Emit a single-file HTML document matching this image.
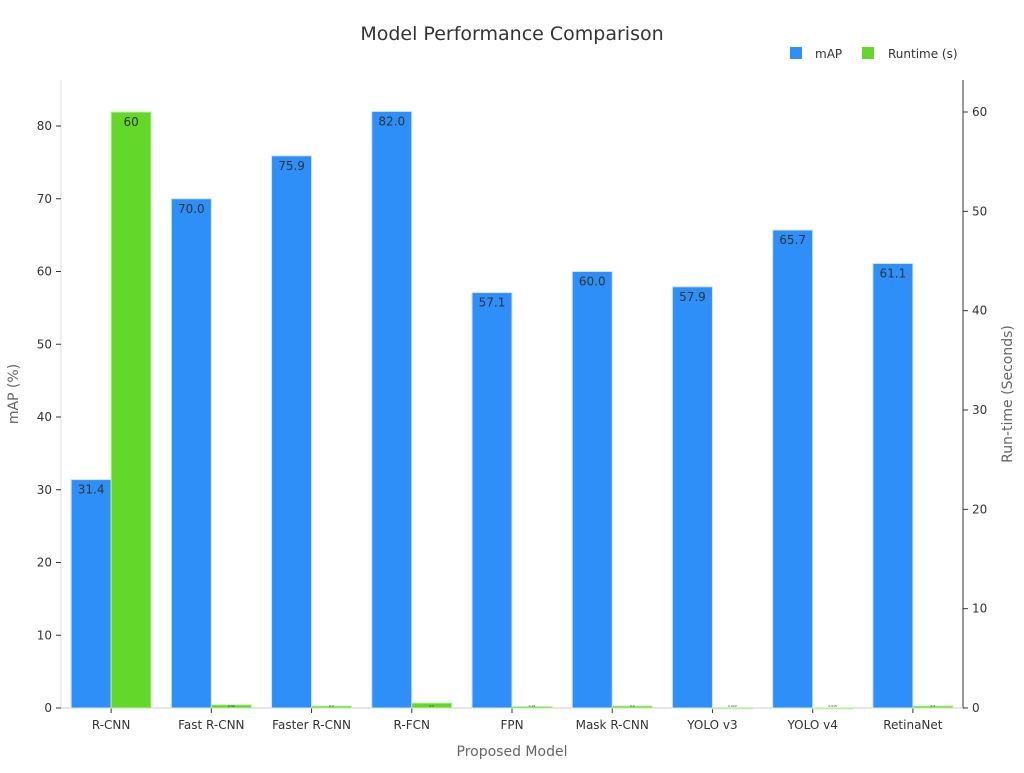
<!DOCTYPE html>
<html><head><meta charset="utf-8"><style>
body{margin:0;background:#fff;font-family:"Liberation Sans","DejaVu Sans",sans-serif}
</style></head><body>
<svg id="chart" width="1024" height="768" xmlns="http://www.w3.org/2000/svg" font-family="DejaVu Sans, Liberation Sans, sans-serif">
<text x="512" y="40" text-anchor="middle" font-size="19" fill="#333">Model Performance Comparison</text>
<g>
<rect x="790" y="47" width="12" height="12" fill="#2e8ff8"/>
<text x="815" y="58" font-size="12" fill="#333">mAP</text>
<rect x="862" y="47" width="12" height="12" fill="#64d82a"/>
<text x="888" y="58" font-size="12" fill="#333">Runtime (s)</text>
</g>
<g id="axes"></g>
<g id="bars"></g>
<text x="512" y="756" text-anchor="middle" font-size="14" fill="#666">Proposed Model</text>
<text transform="translate(18,394) rotate(-90)" text-anchor="middle" font-size="14" fill="#666">mAP (%)</text>
<text transform="translate(1012,394) rotate(-90)" text-anchor="middle" font-size="14" fill="#666">Run-time (Seconds)</text>
</svg>
<script>
const categories=["R-CNN","Fast R-CNN","Faster R-CNN","R-FCN","FPN","Mask R-CNN","YOLO v3","YOLO v4","RetinaNet"];
const mapValues=[31.4,70.0,75.9,82.0,57.1,60.0,57.9,65.7,61.1];
const runtimeValues=[60,0.32,0.2,0.5,0.15,0.2,0.022,0.015,0.2];
const runtimeLabels=["60","0.32","0.2","0.5","0.15","0.2","0.022","0.015","0.2"];
const leftTicks=[0,10,20,30,40,50,60,70,80];
const rightTicks=[0,10,20,30,40,50,60];
const X0=61,X1=963,Y0=708;
const yL=v=>Y0-v*(708-126)/80;
const yR=v=>Y0-v*(708-112)/60;
const gw=(X1-X0)/categories.length;
const xC=i=>X0+gw*(i+0.5);
const NS="http://www.w3.org/2000/svg";
function mk(tag,attrs,parent,text){const e=document.createElementNS(NS,tag);for(const k in attrs)e.setAttribute(k,attrs[k]);if(text!==undefined)e.textContent=text;parent.appendChild(e);return e;}
const ax=document.getElementById('axes'),bars=document.getElementById('bars');
let l=mk('line',{x1:X0,y1:80,x2:X0,y2:Y0,stroke:'#ddd'},ax);


l=mk('line',{x1:X1,y1:80,x2:X1,y2:Y0,stroke:'#333'},ax);


l=mk('line',{x1:X0,y1:Y0,x2:X1,y2:Y0,stroke:'#ccc'},ax);


leftTicks.forEach(v=>{const y=yL(v);
mk('line',{x1:X0-5,y1:y,x2:X0,y2:y,stroke:'#333'},ax);
const t=mk('text',{x:X0-9,y:y+4,'text-anchor':'end','font-size':12,fill:'#333'},ax,String(v));

});
rightTicks.forEach(v=>{const y=yR(v);
mk('line',{x1:X1,y1:y,x2:X1+5,y2:y,stroke:'#333'},ax);
const t=mk('text',{x:X1+9,y:y+4,'font-size':12,fill:'#333'},ax,String(v));

});
categories.forEach((c,i)=>{const x=xC(i);
mk('line',{x1:x,y1:Y0,x2:x,y2:Y0+5,stroke:'#333'},ax);
const t=mk('text',{x:x,y:Y0+21,'text-anchor':'middle','font-size':12,fill:'#333'},ax,c);


const bw=40;
const ym=yL(mapValues[i]);
const b=mk('rect',{x:x-bw,y:ym,width:bw,height:Y0-ym,fill:'#2e8ff8',stroke:'#cfe3fb','stroke-width':1},bars);


const lt=mk('text',{x:x-bw/2,y:ym+14,'text-anchor':'middle','font-size':12,fill:'#333'},bars,mapValues[i].toFixed(1));


const yr=yR(runtimeValues[i]);
const r=mk('rect',{x:x,y:yr,width:bw,height:Math.max(Y0-yr,1),fill:'#64d82a',stroke:'#bfeea8','stroke-width':1},bars);


const big=(Y0-yr)>20;
const rt=mk('text',{x:x+bw/2,y:big?yr+14:Y0-1,'text-anchor':'middle','font-size':big?12:3,fill:'#333'},bars,runtimeLabels[i]);


});
</script>
</body></html>
